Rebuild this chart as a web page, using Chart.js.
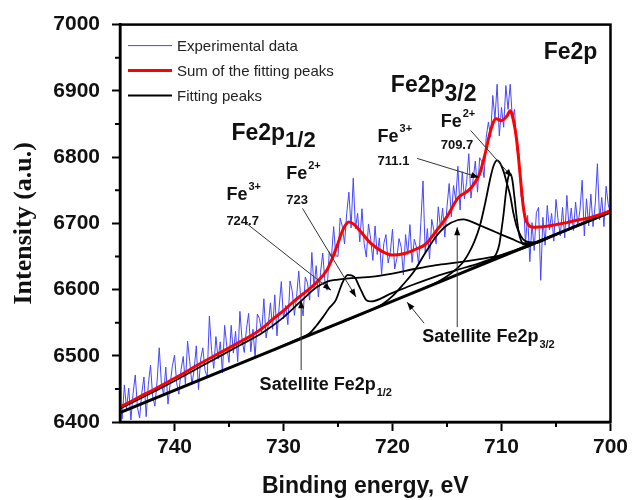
<!DOCTYPE html>
<html><head><meta charset="utf-8">
<script src="https://cdn.jsdelivr.net/npm/chart.js@4/dist/chart.umd.min.js"></script>
<style>html,body{margin:0;padding:0;background:#fff}#wrap{width:632px;height:500px}</style>
</head><body><div id="wrap"><canvas id="c" width="632" height="500"></canvas></div>
<script>
// ---------- DATA ----------
const xTicks = [740, 730, 720, 710, 700];
const xMinorTicks = [735, 725, 715, 705];
const yTicks = [6400, 6500, 6600, 6700, 6800, 6900, 7000];
const yMinorTicks = [6450, 6550, 6650, 6750, 6850, 6950];

const expEnergy = [745.0,744.8,744.6,744.4,744.2,744.0,743.8,743.6,743.4,743.2,743.0,742.8,742.6,742.4,742.2,742.0,741.8,741.6,741.4,741.2,741.0,740.8,740.6,740.4,740.2,740.0,739.8,739.6,739.4,739.2,739.0,738.8,738.6,738.4,738.2,738.0,737.8,737.6,737.4,737.2,737.0,736.8,736.6,736.4,736.2,736.0,735.8,735.6,735.4,735.2,735.0,734.8,734.6,734.4,734.2,734.0,733.8,733.6,733.4,733.2,733.0,732.8,732.6,732.4,732.2,732.0,731.8,731.6,731.4,731.2,731.0,730.8,730.6,730.4,730.2,730.0,729.8,729.6,729.4,729.2,729.0,728.8,728.6,728.4,728.2,728.0,727.8,727.6,727.4,727.2,727.0,726.8,726.6,726.4,726.2,726.0,725.8,725.6,725.4,725.2,725.0,724.8,724.6,724.4,724.2,724.0,723.8,723.6,723.4,723.2,723.0,722.8,722.6,722.4,722.2,722.0,721.8,721.6,721.4,721.2,721.0,720.8,720.6,720.4,720.2,720.0,719.8,719.6,719.4,719.2,719.0,718.8,718.6,718.4,718.2,718.0,717.8,717.6,717.4,717.2,717.0,716.8,716.6,716.4,716.2,716.0,715.8,715.6,715.4,715.2,715.0,714.8,714.6,714.4,714.2,714.0,713.8,713.6,713.4,713.2,713.0,712.8,712.6,712.4,712.2,712.0,711.8,711.6,711.4,711.2,711.0,710.8,710.6,710.4,710.2,710.0,709.8,709.6,709.4,709.2,709.0,708.8,708.6,708.4,708.2,708.0,707.8,707.6,707.4,707.2,707.0,706.8,706.6,706.4,706.2,706.0,705.8,705.6,705.4,705.2,705.0,704.8,704.6,704.4,704.2,704.0,703.8,703.6,703.4,703.2,703.0,702.8,702.6,702.4,702.2,702.0,701.8,701.6,701.4,701.2,701.0,700.8,700.6,700.4,700.2,700.0];
const expIntensity = [6438,6405,6456,6420,6451,6403,6443,6471,6422,6406,6444,6468,6408,6457,6486,6438,6424,6461,6512,6458,6441,6483,6427,6457,6484,6501,6459,6442,6479,6499,6457,6522,6491,6457,6479,6515,6449,6495,6512,6478,6468,6560,6508,6481,6529,6495,6521,6474,6546,6514,6490,6546,6504,6537,6491,6567,6524,6505,6540,6564,6506,6540,6496,6563,6556,6535,6586,6527,6546,6580,6540,6592,6530,6573,6612,6556,6576,6547,6613,6598,6561,6589,6628,6582,6560,6619,6610,6584,6656,6603,6636,6589,6626,6655,6612,6599,6657,6648,6695,6651,6650,6708,6695,6669,6715,6747,6693,6768,6692,6715,6672,6722,6669,6649,6699,6676,6644,6696,6653,6678,6623,6669,6683,6640,6656,6691,6631,6647,6677,6664,6622,6683,6653,6698,6641,6676,6664,6638,6701,6764,6656,6692,6646,6706,6689,6669,6725,6693,6723,6679,6725,6760,6710,6757,6735,6786,6720,6778,6737,6762,6805,6738,6767,6794,6747,6799,6793,6769,6830,6853,6830,6893,6858,6910,6832,6875,6845,6908,6872,6910,6858,6872,6810,6805,6740,6740,6670,6712,6642,6701,6659,6716,6724,6614,6709,6667,6727,6690,6715,6673,6736,6704,6681,6724,6678,6742,6692,6723,6689,6732,6697,6720,6765,6681,6737,6696,6744,6695,6729,6790,6705,6739,6695,6756,6728,6715];

const sumEnergy = [745,744,743,742,741,740,739,738,737,736,735,734,733,732,731,730,729,728,727,726,725.5,725,724.5,724,723.5,723,722,721,720,719,718,717,716,715,714,713,712.5,712,711.5,711,710.5,710,709.5,709.2,708.9,708.6,708.3,708,707.7,707,706,705,704,703,702,701,700];
const sumIntensity = [6423,6431,6440,6448,6457,6466,6475,6485,6494,6503,6512,6521,6530,6541,6555,6568,6583,6596,6610,6630,6648,6670,6692,6702,6698,6689,6670,6658,6652,6654,6660,6668,6688,6710,6738,6750,6760,6775,6805,6840,6858,6855,6862,6870,6855,6825,6775,6725,6702,6694,6695,6698,6701,6705,6708,6713,6719];

const baseEnergy = [745, 700];
const baseIntensity = [6414, 6717];

const peakAEnergy = [745,742,740,738,736,734,732,730,728.3,727,726,725,724,723,722,720,718,716,714,712,710,708,706,704,702,700];
const peakAIntensity = [6420,6445,6462,6480,6498,6516,6534,6558,6584,6603,6612,6615,6617,6618,6619,6624,6631,6637,6641,6646,6652,6662,6676,6690,6703,6717];

const peakCEnergy = [731,729,728,727.6,727,726.4,725.8,725.2,724.6,724.1,723.5,723,722.4,722,720,718,716,714,712,710,708,706,703,700];
const peakCIntensity = [6508,6523,6530,6534,6545,6558,6572,6584,6610,6622,6619,6603,6584,6582,6595,6608,6620,6630,6640,6652,6664,6677,6697,6717];

const peakDEnergy = [726,724,722,721,720,719,718,717,716,715,714,713.5,713,712,711,710,709,708,707,705,702,700];
const peakDIntensity = [6542,6555,6569,6577,6590,6608,6628,6655,6680,6697,6705,6706,6704,6697,6690,6683,6676,6670,6670,6683,6703,6717];

const peakEEnergy = [717,716,715,714.5,714,713.5,713,712.5,712,711.5,711,710.7,710.4,710.1,709.8,709.5,709.2,708.9,708.6,708.2,707.8,707,706,703,700];
const peakEIntensity = [6603,6610,6620,6626,6633,6642,6655,6672,6695,6730,6770,6788,6795,6790,6778,6760,6742,6715,6695,6680,6673,6671,6677,6697,6717];

const peakFEnergy = [713,712,711,710.5,710.2,710,709.8,709.6,709.4,709.2,709,708.8,708.6,708.4,708.2,708,707.5,706,703,700];
const peakFIntensity = [6630,6637,6645,6653,6668,6690,6715,6745,6768,6775,6765,6738,6708,6685,6674,6668,6668,6677,6697,6717];

// ---------- ANNOTATIONS (data coordinates) ----------
const labels = [
  {x:706.13, y:6948.7, parts:[{t:'Fe2p', s:23}]},
  {x:720.15, y:6897.5, parts:[{t:'Fe2p', s:23}, {t:'3/2', s:23, dy:9}]},
  {x:734.78, y:6825.1, parts:[{t:'Fe2p', s:23}, {t:'1/2', s:22, dy:7}]},
  {x:721.37, y:6822.6, parts:[{t:'Fe', s:18}, {t:'3+', s:11, dy:-10, dx:1}]},
  {x:721.37, y:6787.4, parts:[{t:'711.1', s:13}]},
  {x:715.58, y:6845.2, parts:[{t:'Fe', s:18}, {t:'2+', s:11, dy:-10, dx:1}]},
  {x:715.58, y:6812.6, parts:[{t:'709.7', s:13}]},
  {x:729.75, y:6767.4, parts:[{t:'Fe', s:18}, {t:'2+', s:11, dy:-10, dx:1}]},
  {x:729.75, y:6729.7, parts:[{t:'723', s:13}]},
  {x:735.24, y:6734.7, parts:[{t:'Fe', s:18}, {t:'3+', s:11, dy:-10, dx:1}]},
  {x:735.24, y:6697.0, parts:[{t:'724.7', s:13}]},
  {x:717.26, y:6521.0, parts:[{t:'Satellite Fe2p', s:18}, {t:'3/2', s:11, dy:6, dx:1}]},
  {x:732.19, y:6448.2, parts:[{t:'Satellite Fe2p', s:18}, {t:'1/2', s:11, dy:6, dx:1}]}
];
const arrows = [
  {from:[717.74,6798.0], to:[712.07,6769.3]},
  {from:[712.83,6840.2], to:[709.03,6769.8]},
  {from:[733.41,6700.0], to:[725.64,6599.0]},
  {from:[728.26,6722.6], to:[723.35,6588.9]},
  {from:[728.38,6478.4], to:[728.38,6583.9]},
  {from:[714.06,6543.2], to:[714.06,6694.0]},
  {from:[717.10,6549.2], to:[718.66,6580.9]}
];
const legendItems = [
  {text:'Experimental data', color:'rgb(70,70,255)', width:1},
  {text:'Sum of the fitting peaks', color:'#ff0000', width:3},
  {text:'Fitting peaks', color:'#000000', width:2}
];

// ---------- BUILD ----------
const pts = (xs, ys) => xs.map((v, i) => ({x: v, y: ys[i]}));
const blackLine = (xs, ys, w) => ({
  data: pts(xs, ys), borderColor: '#000', borderWidth: w, pointRadius: 0,
  cubicInterpolationMode: 'monotone', fill: false
});

const overlay = {
  id: 'overlay',
  afterDraw(chart) {
    const {ctx, chartArea: a, scales: {x, y}} = chart;
    ctx.save();
    ctx.strokeStyle = '#000'; ctx.lineWidth = 2.5;
    ctx.strokeRect(a.left, a.top, a.right - a.left, a.bottom - a.top);
    ctx.lineWidth = 2;
    ctx.beginPath();
    yMinorTicks.forEach(v => { const py = y.getPixelForValue(v); ctx.moveTo(a.left - 5, py); ctx.lineTo(a.left, py); });
    xMinorTicks.forEach(v => { const px = x.getPixelForValue(v); ctx.moveTo(px, a.bottom); ctx.lineTo(px, a.bottom + 5); });
    ctx.stroke();
    arrows.forEach(ar => {
      const x1 = x.getPixelForValue(ar.from[0]), y1 = y.getPixelForValue(ar.from[1]);
      const x2 = x.getPixelForValue(ar.to[0]), y2 = y.getPixelForValue(ar.to[1]);
      ctx.strokeStyle = '#333'; ctx.lineWidth = 1;
      ctx.beginPath(); ctx.moveTo(x1, y1); ctx.lineTo(x2, y2); ctx.stroke();
      const ang = Math.atan2(y2 - y1, x2 - x1), L = 8, W = 3;
      ctx.fillStyle = '#000';
      ctx.beginPath();
      ctx.moveTo(x2, y2);
      ctx.lineTo(x2 - L * Math.cos(ang) + W * Math.sin(ang), y2 - L * Math.sin(ang) - W * Math.cos(ang));
      ctx.lineTo(x2 - L * Math.cos(ang) - W * Math.sin(ang), y2 - L * Math.sin(ang) + W * Math.cos(ang));
      ctx.closePath(); ctx.fill();
    });
    ctx.fillStyle = '#111'; ctx.textAlign = 'left'; ctx.textBaseline = 'alphabetic';
    labels.forEach(l => {
      let px = x.getPixelForValue(l.x); const py = y.getPixelForValue(l.y);
      l.parts.forEach(p => {
        ctx.font = 'bold ' + p.s + 'px "Liberation Sans", Arial, sans-serif';
        px += (p.dx || 0);
        ctx.fillText(p.t, px, py + (p.dy || 0));
        px += ctx.measureText(p.t).width;
      });
    });
    ctx.font = '15px "Liberation Sans", Arial, sans-serif';
    ctx.textBaseline = 'middle';
    legendItems.forEach((it, i) => {
      const ly = a.top + 21 + i * 25;
      ctx.strokeStyle = it.color; ctx.lineWidth = it.width;
      ctx.beginPath(); ctx.moveTo(a.left + 8, ly); ctx.lineTo(a.left + 52, ly); ctx.stroke();
      ctx.fillStyle = '#222';
      ctx.fillText(it.text, a.left + 57, ly + 1);
    });
    ctx.restore();
  }
};

const tickFont = {family: '"Liberation Sans", Arial, sans-serif', size: 21, weight: 'bold'};

new Chart(document.getElementById('c'), {
  type: 'line',
  data: {
    datasets: [
      {data: pts(sumEnergy, sumIntensity), borderColor: '#ff0000', borderWidth: 3, pointRadius: 0, cubicInterpolationMode: 'monotone', fill: false},
      blackLine(peakFEnergy, peakFIntensity, 1.8),
      blackLine(peakEEnergy, peakEIntensity, 1.8),
      blackLine(peakDEnergy, peakDIntensity, 1.8),
      blackLine(peakCEnergy, peakCIntensity, 1.8),
      blackLine(peakAEnergy, peakAIntensity, 1.8),
      blackLine(baseEnergy, baseIntensity, 3),
      {data: pts(expEnergy, expIntensity), borderColor: 'rgb(70,70,255)', borderWidth: 1, pointRadius: 0, tension: 0, fill: false}
    ]
  },
  options: {
    responsive: false, animation: false, devicePixelRatio: 1,
    layout: {padding: {left: 0, right: 20, top: 24, bottom: 0}},
    plugins: {legend: {display: false}, tooltip: {enabled: false}},
    scales: {
      x: {
        type: 'linear', min: 700, max: 745, reverse: true,
        afterBuildTicks: s => { s.ticks = xTicks.map(v => ({value: v})); },
        afterFit: s => { s.height = 78; },
        ticks: {font: tickFont, color: '#111', padding: 4, autoSkip: false, maxRotation: 0, callback: v => String(v)},
        grid: {display: true, drawOnChartArea: false, drawTicks: true, tickLength: 9, tickColor: '#000', tickWidth: 2},
        border: {display: true, color: '#000', width: 2.5},
        title: {display: true, text: 'Binding energy, eV', color: '#111', font: {family: '"Liberation Sans", Arial, sans-serif', size: 23, weight: 'bold'}, padding: {top: 0, bottom: 0}}
      },
      y: {
        type: 'linear', min: 6400, max: 7000,
        afterBuildTicks: s => { s.ticks = yTicks.map(v => ({value: v})); },
        afterFit: s => { s.width = 120; },
        ticks: {font: tickFont, color: '#111', padding: 12, callback: v => String(v)},
        grid: {display: true, drawOnChartArea: false, drawTicks: true, tickLength: 8, tickColor: '#000', tickWidth: 2},
        border: {display: true, color: '#000', width: 2.5},
        title: {display: true, text: 'Intensity (a.u.)', color: '#111', font: {family: '"Liberation Serif", "Times New Roman", serif', size: 26, weight: 'bold'}, padding: {top: 9, bottom: 0}}
      }
    }
  },
  plugins: [overlay]
});
</script>
</body></html>
